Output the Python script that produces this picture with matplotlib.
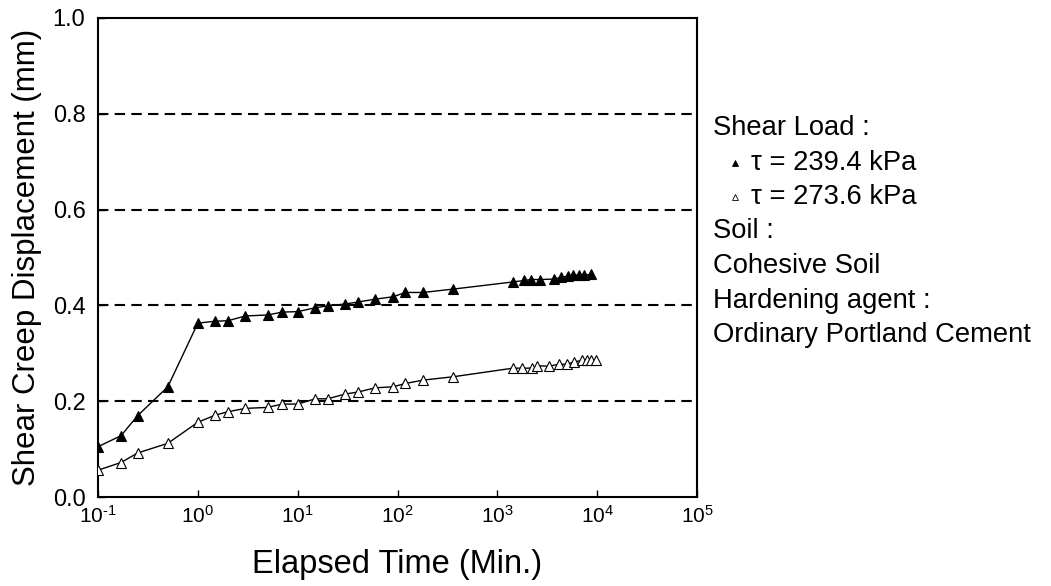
import matplotlib
matplotlib.use("Agg")
import matplotlib.pyplot as plt
from matplotlib.lines import Line2D
from matplotlib.ticker import FixedFormatter

plt.rcParams['font.family'] = ['Liberation Sans', 'DejaVu Sans']
plt.rcParams['mathtext.fontset'] = 'custom'
plt.rcParams['mathtext.rm'] = 'Liberation Sans'
plt.rcParams['mathtext.it'] = 'Liberation Sans:italic'

# Data (elapsed time in minutes, displacement in mm)
t_239 = [0.1, 0.17, 0.25, 0.5, 1, 1.5, 2, 3, 5, 7, 10, 15, 20, 30, 40, 60, 90, 120, 180,
         360, 1440, 1850, 2180, 2690, 3730, 4360, 5090, 5790, 6550, 7460, 8650]
d_239 = [0.105, 0.128, 0.170, 0.230, 0.363, 0.367, 0.368, 0.378, 0.380, 0.386, 0.387,
         0.395, 0.399, 0.403, 0.407, 0.413, 0.418, 0.427, 0.427, 0.434, 0.449, 0.452,
         0.454, 0.454, 0.455, 0.459, 0.461, 0.463, 0.463, 0.463, 0.465]

t_273 = [0.1, 0.17, 0.25, 0.5, 1, 1.5, 2, 3, 5, 7, 10, 15, 20, 30, 40, 60, 90, 120, 180,
         360, 1440, 1760, 2200, 2520, 3270, 4120, 4960, 5870, 7010, 7870, 8650, 9700]
d_273 = [0.056, 0.072, 0.092, 0.112, 0.156, 0.171, 0.178, 0.185, 0.187, 0.194, 0.194,
         0.205, 0.205, 0.215, 0.219, 0.228, 0.230, 0.237, 0.244, 0.251, 0.269, 0.269,
         0.269, 0.274, 0.273, 0.277, 0.277, 0.282, 0.285, 0.285, 0.285, 0.285]

grid_levels = [0.2, 0.4, 0.6, 0.8]
y_ticks = [0.0, 0.2, 0.4, 0.6, 0.8, 1.0]
x_ticks = [1e-1, 1e0, 1e1, 1e2, 1e3, 1e4, 1e5]
x_exponents = ["-1", "0", "1", "2", "3", "4", "5"]

legend_lines = ["Shear Load :", None, None, "Soil :", "Cohesive Soil",
                "Hardening agent :", "Ordinary Portland Cement"]
series_labels = ["\u03c4 = 239.4 kPa", "\u03c4 = 273.6 kPa"]

fig = plt.figure(figsize=(10.51, 5.86), dpi=100)
ax = fig.add_axes([98/1051, 1-497/586, (697-98)/1051, (497-18)/586])

for g in grid_levels:
    ax.axhline(g, color='black', lw=1.5, ls=(0, (5, 3)), zorder=1)

ax.plot(t_239, d_239, color='black', lw=1.0, marker='^', ms=6.5,
        mfc='black', mec='black', mew=0.8, zorder=3)
ax.plot(t_273, d_273, color='black', lw=1.0, marker='^', ms=6.5,
        mfc='white', mec='black', mew=0.8, zorder=3)

ax.set_xscale('log')
ax.set_xlim(1e-1, 1e5)
ax.set_ylim(0, 1.0)
ax.set_xticks(x_ticks)
ax.minorticks_off()
ax.xaxis.set_major_formatter(FixedFormatter(
    [r'$\mathregular{10^{\text{%s}}}$' % e for e in x_exponents]))
ax.set_yticks(y_ticks)
ax.set_yticklabels([f"{v:.1f}" for v in y_ticks])
ax.tick_params(direction='in', length=5, width=1, colors='black')
ax.tick_params(axis='x', labelsize=15, pad=6)
ax.tick_params(axis='y', labelsize=17, pad=9)
for s in ax.spines.values():
    s.set_linewidth(1.5)

ax.set_xlabel("Elapsed Time (Min.)", fontsize=23.5, labelpad=16)
ax.set_ylabel("Shear Creep Displacement (mm)", fontsize=22.5, labelpad=8)

# Side annotation text
ys = [128, 163, 197, 231, 266, 301, 335]
fs = 19.7
for txt, yp in zip(legend_lines, ys):
    if txt is not None:
        fig.text(713/1051, 1-yp/586, txt, fontsize=fs, va='center', ha='left')
for i, (lab, yp) in enumerate(zip(series_labels, ys[1:3])):
    fc = 'black' if i == 0 else 'white'
    fig.add_artist(Line2D([735/1051], [1-yp/586], marker='^', ms=4, mfc=fc,
                          mec='black', mew=0.6, ls='none', transform=fig.transFigure))
    fig.text(751/1051, 1-yp/586, lab, fontsize=fs, va='center', ha='left')

fig.savefig("out.png", dpi=100)
